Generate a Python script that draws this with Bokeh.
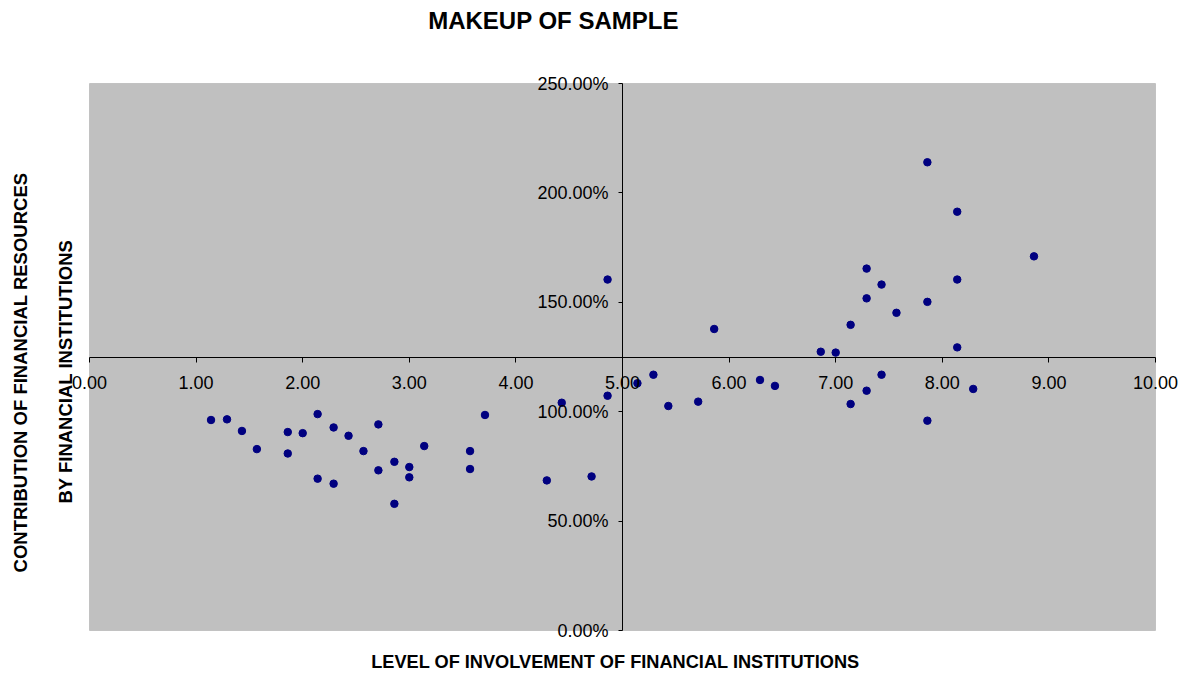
from bokeh.plotting import figure
from bokeh.models import (LinearAxis, FixedTicker, NumeralTickFormatter, Label,
                          ColumnDataSource, BoxAnnotation)
from bokeh.embed import file_html
from bokeh.resources import INLINE
import math

# ---- data ----
involvement = [1.14, 1.29, 1.43, 1.57, 1.86, 1.86, 2.00, 2.14, 2.14, 2.29,
               2.29, 2.43, 2.57, 2.71, 2.71, 2.86, 2.86, 3.00, 3.00, 3.14,
               3.57, 3.57, 3.71, 4.29, 4.43, 4.71, 4.86, 4.86, 5.14, 5.29,
               5.43, 5.71, 5.86, 6.29, 6.43, 6.86, 7.00, 7.14, 7.14, 7.29,
               7.29, 7.29, 7.43, 7.43, 7.57, 7.86, 7.86, 7.86, 8.14, 8.14,
               8.14, 8.29, 8.86]
contribution_pct = [96.2, 96.5, 91.2, 82.9, 90.7, 80.9, 90.2, 98.9, 69.4, 92.8,
                    67.1, 89.0, 82.0, 94.2, 73.2, 77.1, 57.9, 74.7, 70.0, 84.3,
                    82.0, 73.8, 98.5, 68.6, 104.1, 70.4, 107.3, 160.4, 113.0, 116.9,
                    102.6, 104.6, 137.8, 114.5, 111.8, 127.4, 127.0, 139.7, 103.5, 165.4,
                    151.8, 109.6, 158.1, 116.9, 145.2, 214.0, 150.2, 95.9, 191.4, 160.4,
                    129.4, 110.4, 171.0]
x_ticks = [0, 1, 2, 3, 4, 5, 6, 7, 8, 9, 10]
y_ticks_pct = [0, 50, 100, 150, 200, 250]
x_min, x_max = 0, 10
y_min_pct, y_max_pct = 0, 250
x_cross = 5.0
y_cross_pct = 125

title_text = "MAKEUP OF SAMPLE"
x_title = "LEVEL OF INVOLVEMENT OF FINANCIAL INSTITUTIONS"
y_title_1 = "CONTRIBUTION OF FINANCIAL RESOURCES"
y_title_2 = "BY FINANCIAL INSTITUTIONS"

FONT = "Liberation Sans"

# ---- layout (canvas pixels) ----
W, H = 1180, 672
area_left, area_right = 89, 1155      # plot area edges
area_top, area_bottom = 83, 630

ppx = (area_right - area_left) / (x_max - x_min)
ppy = (area_bottom - area_top) / ((y_max_pct - y_min_pct) / 100)
x_range = (x_min - area_left / ppx, x_max + (W - area_right) / ppx)
y_range = (y_min_pct / 100 - (H - area_bottom) / ppy, y_max_pct / 100 + area_top / ppy)

src = ColumnDataSource(dict(x=involvement, y=[v / 100 for v in contribution_pct]))

p = figure(frame_width=W, frame_height=H,
           x_range=x_range, y_range=y_range,
           x_axis_location=None, y_axis_location=None,
           output_backend="svg", toolbar_location=None,
           min_border=0, min_border_left=0, min_border_right=0,
           min_border_top=0, min_border_bottom=0)

p.background_fill_color = "white"
p.border_fill_color = "white"
p.outline_line_color = None
p.xgrid.visible = False
p.ygrid.visible = False

# plot area
area = BoxAnnotation(left=x_min, right=x_max, bottom=y_min_pct / 100, top=y_max_pct / 100,
                     fill_color="#C0C0C0", fill_alpha=1.0,
                     line_color="#808080", line_width=1, level="underlay")
p.add_layout(area)

# crossing axes
xaxis = LinearAxis(fixed_location=y_cross_pct / 100,
                   ticker=FixedTicker(ticks=x_ticks),
                   formatter=NumeralTickFormatter(format="0.00"),
                   bounds=(x_min, x_max))
xaxis.major_tick_out = 5
xaxis.major_tick_in = 0
xaxis.minor_tick_out = 0
xaxis.minor_tick_in = 0
xaxis.major_label_standoff = 14
xaxis.major_label_text_font = FONT
xaxis.major_label_text_font_size = "18px"
xaxis.major_label_text_color = "black"
xaxis.axis_line_color = "black"
xaxis.major_tick_line_color = "black"
p.add_layout(xaxis, "below")

yaxis = LinearAxis(fixed_location=x_cross,
                   ticker=FixedTicker(ticks=[v / 100 for v in y_ticks_pct]),
                   formatter=NumeralTickFormatter(format="0.00%"),
                   bounds=(y_min_pct / 100, y_max_pct / 100))
yaxis.major_tick_out = 4
yaxis.major_tick_in = 0
yaxis.minor_tick_out = 0
yaxis.minor_tick_in = 0
yaxis.major_label_standoff = 10
yaxis.major_label_text_font = FONT
yaxis.major_label_text_font_size = "18px"
yaxis.major_label_text_color = "black"
yaxis.axis_line_color = "black"
yaxis.major_tick_line_color = "black"
p.add_layout(yaxis, "left")

# titles (screen units: from frame bottom-left)
def add_text(txt, cx, cy, size, angle=0.0):
    p.add_layout(Label(text=txt, x=cx, y=H - cy, x_units="screen", y_units="screen",
                       text_align="center", text_baseline="middle", angle=angle,
                       text_font=FONT, text_font_size=size, text_font_style="bold",
                       text_color="black"))

add_text(title_text, 553, 20, "24px")
add_text(x_title, 615, 661, "18.2px")
add_text(y_title_1, 20, 372, "18.5px", math.pi / 2)
add_text(y_title_2, 64.5, 371, "18.5px", math.pi / 2)

p.scatter("x", "y", source=src, size=7.5, fill_color="#000080",
          line_color="#000080", marker="circle")

open("out.html", "w").write(file_html(p, INLINE))
